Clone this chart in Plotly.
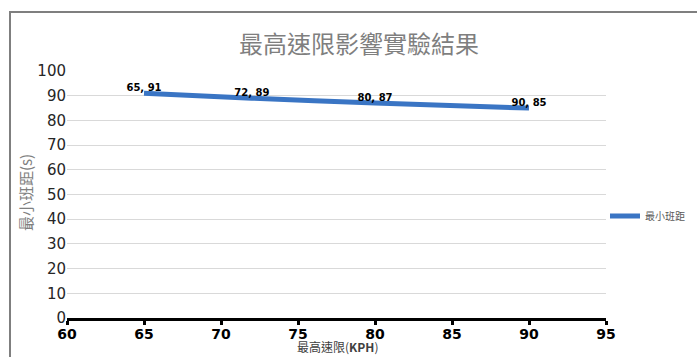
import plotly.graph_objects as go

# Measured minimum headway for each speed limit
speed_limits = [65, 72, 80, 90]
min_headway = [91, 89, 87, 85]
series_name = "最小班距"
title_text = "最高速限影響實驗結果"
x_title = "最高速限(<b>KPH</b>)"
y_title = "最小班距(s)"
x_ticks = [60, 65, 70, 75, 80, 85, 90, 95]
y_ticks = [0, 10, 20, 30, 40, 50, 60, 70, 80, 90, 100]

W, H = 697, 357
ML, MR, MT, MB = 67, 91, 71, 39
pw, ph = W - ML - MR, H - MT - MB

def px_x(p):
    return (p - ML) / pw

def px_y(p):
    return (H - MB - p) / ph

cjk = "Noto Sans CJK TC, DejaVu Sans, sans-serif"
latin = "DejaVu Sans, Verdana, sans-serif"

labels = [f"{x}, {y}" for x, y in zip(speed_limits, min_headway)]

fig = go.Figure()
fig.add_trace(go.Scatter(
    x=speed_limits, y=min_headway, name=series_name,
    mode="lines+text",
    line=dict(color="#3a75c4", width=5, shape="spline", smoothing=0.6),
    text=labels,
    textposition="top center",
    textfont=dict(family=latin, size=10, color="#000000", weight="bold"),
    cliponaxis=False,
))

fig.update_layout(
    width=W, height=H,
    margin=dict(l=ML, r=MR, t=MT, b=MB, autoexpand=False),
    paper_bgcolor="white", plot_bgcolor="white",
    title=dict(text=title_text, x=359 / W, xanchor="center",
               y=1 - 45 / H, yanchor="middle",
               font=dict(family=cjk, size=24, color="#7f7f7f")),
    xaxis=dict(range=[60, 95], tickvals=x_ticks, showgrid=False, automargin=False,
               zeroline=False, showline=True, linecolor="#000000", linewidth=3,
               ticks="outside", ticklen=4, tickwidth=3, tickcolor="#000000",
               ticklabelstandoff=-3,
               tickfont=dict(family=latin, size=14, color="#000000", weight="bold")),
    yaxis=dict(range=[0, 100], tickvals=y_ticks, showgrid=True, automargin=False,
               gridcolor="#d9d9d9", gridwidth=1, zeroline=False, showline=False,
               ticks="", tickfont=dict(family=latin, size=15, color="#262626")),
    legend=dict(xref="container", yref="container",
                x=605 / W, y=1 - 216 / H, xanchor="left", yanchor="middle",
                font=dict(family=cjk, size=10, color="#595959"),
                bgcolor="rgba(0,0,0,0)", itemwidth=30),
    showlegend=True,
    annotations=[
        dict(text=x_title, xref="paper", yref="paper",
             x=px_x(337), y=px_y(356), xanchor="center", yanchor="bottom",
             borderpad=0,
             showarrow=False, font=dict(family=cjk, size=12, color="#404040")),
        dict(text=y_title, xref="paper", yref="paper", textangle=-90,
             x=px_x(25), y=px_y(193), xanchor="center", yanchor="middle",
             showarrow=False, font=dict(family=cjk, size=15, color="#7f7f7f")),
    ],
)

# Outer chart frame (top and left edges visible)
fig.add_shape(type="rect", xref="paper", yref="paper",
              x0=px_x(10), x1=px_x(702), y0=px_y(362), y1=px_y(12),
              line=dict(color="#7f7f7f", width=2), layer="above")

fig.write_html("out.html")
